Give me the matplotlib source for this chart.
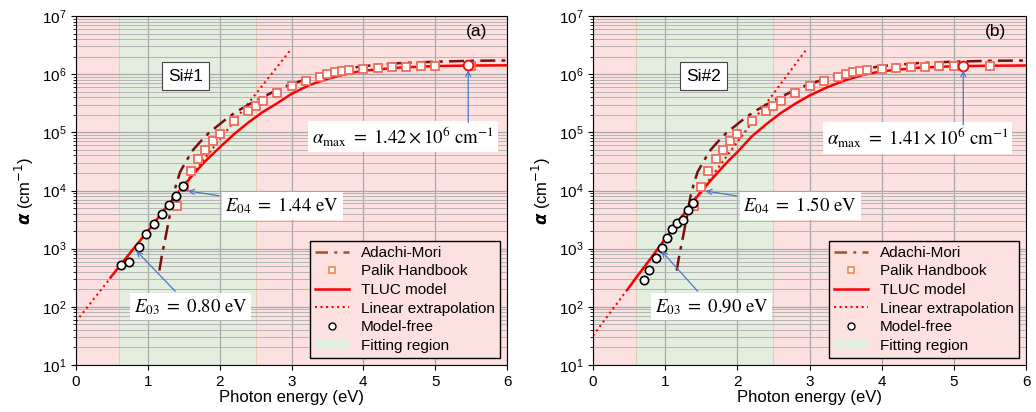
import numpy as np
import matplotlib.pyplot as plt
from matplotlib.lines import Line2D
from matplotlib.patches import Patch
from matplotlib.ticker import NullFormatter, LogLocator

plt.rcParams['font.family'] = ['Liberation Sans', 'DejaVu Sans']

# ---- data ----
# Palik handbook (same in both panels)
palik_E = [1.4, 1.5, 1.6, 1.7, 1.8, 1.9, 2.0, 2.2, 2.4, 2.5, 2.6, 2.8, 3.0, 3.2,
           3.4, 3.5, 3.6, 3.7, 3.8, 4.0, 4.2, 4.4, 4.6, 4.8, 5.0, 5.5]
palik_a = [5.5e3, 1.15e4, 2.2e4, 3.5e4, 5.0e4, 7.0e4, 9.4e4, 1.55e5, 2.35e5, 2.8e5,
           3.4e5, 4.7e5, 6.3e5, 7.7e5, 9.1e5, 1.0e6, 1.07e6, 1.13e6, 1.18e6, 1.25e6,
           1.30e6, 1.33e6, 1.35e6, 1.37e6, 1.38e6, 1.40e6]

# Adachi-Mori model (same in both panels)
adachi_E = [1.16, 1.2, 1.25, 1.3, 1.35, 1.4, 1.45, 1.54, 1.63, 1.73, 1.85, 1.96, 2.1,
            2.24, 2.5, 2.75, 3.0, 3.25, 3.5, 3.75, 4.0, 4.5, 5.0, 5.5, 6.0]
adachi_a = [4.2e2, 8.3e2, 1.66e3, 3.5e3, 7.9e3, 1.35e4, 2.1e4, 3.3e4, 5.0e4, 6.9e4,
            9.8e4, 1.26e5, 1.74e5, 2.3e5, 3.5e5, 5.0e5, 6.8e5, 8.5e5, 1.05e6, 1.23e6,
            1.38e6, 1.55e6, 1.64e6, 1.70e6, 1.72e6]

# TLUC model
tluc_E = [0.48, 0.6, 0.8, 1.0, 1.2, 1.3, 1.4, 1.5, 1.6, 1.7, 1.8, 1.9, 2.0, 2.2, 2.4,
          2.6, 2.8, 3.0, 3.25, 3.5, 3.75, 4.0, 4.5, 5.0, 5.5, 6.0]
tluc_a1 = [3.2e2, 4.9e2, 1.0e3, 2.0e3, 4.2e3, 6.0e3, 8.5e3, 1.2e4, 1.7e4, 2.35e4,
           3.2e4, 4.2e4, 5.5e4, 9.3e4, 1.48e5, 2.24e5, 3.16e5, 4.6e5, 6.5e5, 8.3e5,
           1.0e6, 1.15e6, 1.30e6, 1.38e6, 1.41e6, 1.42e6]
tluc_a2 = [2.0e2, 3.2e2, 6.8e2, 1.48e3, 3.2e3, 4.6e3, 6.8e3, 9.5e3, 1.35e4, 1.86e4,
           2.57e4, 3.47e4, 4.57e4, 8.5e4, 1.38e5, 2.14e5, 3.1e5, 4.3e5, 6.0e5, 7.9e5,
           9.8e5, 1.12e6, 1.29e6, 1.37e6, 1.40e6, 1.41e6]

# linear extrapolation (end points)
lin_E1 = [0.0, 3.0]
lin_a1 = [56, 2.75e6]
lin_E2 = [0.0, 2.96]
lin_a2 = [32, 2.7e6]

# model-free points
mf_E1 = [0.63, 0.74, 0.87, 0.975, 1.09, 1.20, 1.30, 1.39, 1.49]
mf_a1 = [525, 590, 1.05e3, 1.78e3, 2.65e3, 3.9e3, 5.6e3, 8.1e3, 1.2e4]
mf_E2 = [0.70, 0.78, 0.87, 0.95, 1.03, 1.10, 1.17, 1.25, 1.32, 1.39]
mf_a2 = [290, 430, 680, 1.02e3, 1.5e3, 2.2e3, 2.8e3, 3.1e3, 4.6e3, 6.0e3]

# alpha_max points
amax_E = [5.46, 5.13]
amax_a = [1.42e6, 1.41e6]

samples = ['Si#1', 'Si#2']
panel_tags = ['(a)', '(b)']
e03 = ['0.80', '0.90']
e04 = ['1.44', '1.50']
amax_txt = ['1.42', '1.41']
y_ticks = [1e1, 1e2, 1e3, 1e4, 1e5, 1e6, 1e7]

fit_lo, fit_hi = 0.6, 2.5

pink = '#fde1e1'
green = '#e3eedf'
blue = '#4a78c8'

fig = plt.figure(figsize=(10.36, 4.12), dpi=100)
ax1 = fig.add_axes([0.0734, 0.1141, 0.416, 0.847])
ax2 = fig.add_axes([0.5724, 0.1141, 0.418, 0.847])

# axis, TLUC, extrapolation, model-free, text spots (E04, E03, alpha_max), box-top for alpha_max arrow, E03 tip
panels = [
    (ax1, tluc_a1, lin_E1, lin_a1, mf_E1, mf_a1, (2.87, 5.5e3), (1.59, 1.0e2), (4.55, 8.5e4), 1.47e5, (0.81, 1.0e3)),
    (ax2, tluc_a2, lin_E2, lin_a2, mf_E2, mf_a2, (2.87, 5.4e3), (1.645, 1.0e2), (4.50, 8.0e4), 1.34e5, (0.92, 1.0e3)),
]

for i, (ax, tluc_a, lin_E, lin_a, mf_E, mf_a, t04, t03, tmax, top_max, tip03) in enumerate(panels):
    ax.axvspan(0, fit_lo, color=pink, zorder=0, lw=0)
    ax.axvspan(fit_lo, fit_hi, color=green, zorder=0, lw=0)
    ax.axvspan(fit_hi, 6, color=pink, zorder=0, lw=0)
    ax.axvline(fit_lo, color='#e0cfb8', lw=0.8, zorder=0.2)
    ax.axvline(fit_hi, color='#e0cfb8', lw=0.8, zorder=0.2)

    ax.plot(lin_E, lin_a, color='red', ls=':', lw=1.5, zorder=2)
    ax.plot(tluc_E, tluc_a, color='red', lw=1.8, zorder=2.2)
    ax.plot(adachi_E, adachi_a, color='#7a1010', lw=1.8,
            dashes=(6, 2.5, 1.5, 2.5), zorder=2.4)
    ax.plot(palik_E, palik_a, ls='none', marker='s', ms=5.5, mfc='white',
            mec='#f26b5b', mew=1.3, zorder=3)
    ax.plot(mf_E, mf_a, ls='none', marker='o', ms=6, mfc='white',
            mec='black', mew=1.2, zorder=4)
    ax.plot(amax_E[i], amax_a[i], ls='none', marker='o', ms=7, mfc='white',
            mec='red', mew=1.3, zorder=5)

    ax.set_yscale('log')
    ax.set_xlim(0, 6)
    ax.set_ylim(10, 1e7)
    ax.set_yticks(y_ticks)
    ax.yaxis.set_minor_locator(LogLocator(base=10, subs=np.arange(2, 10)))
    ax.yaxis.set_minor_formatter(NullFormatter())
    ax.set_axisbelow(True)
    ax.grid(True, which='major', color='#a8a8a8', lw=0.9)
    ax.grid(True, which='minor', axis='y', color='#b4b4b4', lw=0.7)
    ax.tick_params(labelsize=11)

    ax.set_xlabel('Photon energy (eV)', fontsize=12, labelpad=1)
    ax.set_ylabel(r'$\boldsymbol{\alpha}$ (cm$^{-1}$)', fontsize=12)

    box = dict(boxstyle='square,pad=0.2', fc='white', ec='none')
    arr = dict(arrowstyle='->', color=blue, lw=0.9, mutation_scale=9)
    ax.annotate(r'$E_{04}\ =\ ' + e04[i] + r'\ \mathrm{eV}$', xy=(1.52, 1.0e4), xytext=t04,
                ha='center', va='center', fontsize=13.5, math_fontfamily='stix',
                bbox=box, arrowprops=arr, zorder=6)
    ax.annotate(r'$E_{03}\ =\ ' + e03[i] + r'\ \mathrm{eV}$', xy=tip03, xytext=t03,
                ha='center', va='center', fontsize=13.5, math_fontfamily='stix',
                bbox=box, arrowprops=arr, zorder=6)
    ax.text(tmax[0], tmax[1],
            r'$\alpha_{\mathrm{max}}\ =\ ' + amax_txt[i] + r'\times10^{6}\ \mathrm{cm}^{-1}$',
            ha='center', va='center', fontsize=13.5, math_fontfamily='stix',
            bbox=box, zorder=6)
    ax.annotate('', xy=(amax_E[i], amax_a[i]), xytext=(amax_E[i], top_max),
                arrowprops=dict(arr, shrinkA=0, shrinkB=3.5), zorder=6)

    ax.text(0.255, 0.828, samples[i], transform=ax.transAxes, ha='center', va='center',
            fontsize=12.5, bbox=dict(boxstyle='square,pad=0.35', fc='white', ec='#444444', lw=0.8),
            zorder=6)
    ax.text(0.93, 0.955, panel_tags[i], transform=ax.transAxes, ha='center', va='center',
            fontsize=12.5, zorder=6)

    handles = [
        Line2D([], [], color='#a0522d', lw=1.8, dashes=(5, 2.5, 1.2, 2.5), label='Adachi-Mori'),
        Line2D([], [], ls='none', marker='s', ms=5, mfc='white', mec='#f0884f', mew=1.2,
               label='Palik Handbook'),
        Line2D([], [], color='red', lw=1.8, label='TLUC model'),
        Line2D([], [], color='red', ls=':', lw=1.5, label='Linear extrapolation'),
        Line2D([], [], ls='none', marker='o', ms=5, mfc='white', mec='black', mew=1.0,
               label='Model-free'),
        Patch(facecolor=green, edgecolor='none', label='Fitting region'),
    ]
    leg = ax.legend(handles=handles, loc='lower right', fontsize=11, fancybox=False,
                    edgecolor='black', facecolor=pink, framealpha=1, labelspacing=0.3,
                    handlelength=2.2, borderaxespad=0.45, borderpad=0.35)
    leg.get_frame().set_linewidth(1.0)
    leg.set_zorder(7)

fig.savefig('out.png', dpi=100)
